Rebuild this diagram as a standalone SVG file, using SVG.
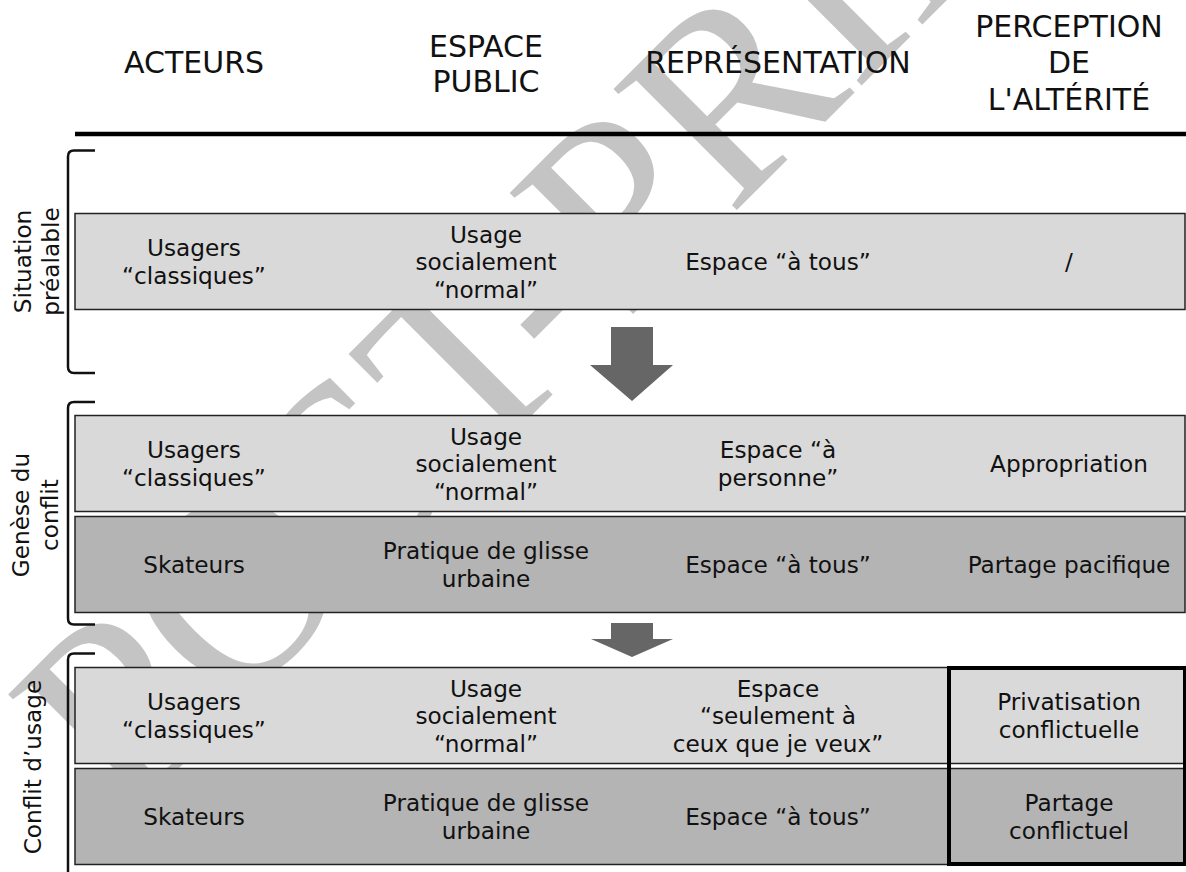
<svg xmlns="http://www.w3.org/2000/svg" width="1186" height="872" viewBox="0 0 1186 872">
<style>
.hd{font-family:"DejaVu Sans",Verdana,sans-serif;font-size:30px;fill:#111;text-anchor:middle}
.tx{font-family:"DejaVu Sans",Verdana,sans-serif;font-size:23.2px;fill:#111;text-anchor:middle}
.lt{fill:#d9d9d9;stroke:#222;stroke-width:1.5}
.dk{fill:#b4b4b4;stroke:#222;stroke-width:1.5}
.br{fill:none;stroke:#111;stroke-width:2.5}
.ar{fill:#666}
.wm{font-family:"Liberation Serif","Times New Roman",serif;font-size:264px;fill:#c4c4c4}
</style>
<rect width="1186" height="872" fill="#fff"/>
<text class="wm" transform="translate(125,822) rotate(-45)">POST-PRINT</text>

<g id="header">
<text class="hd" x="194" y="73">ACTEURS</text>
<text class="hd" x="486" y="56.5">ESPACE<tspan x="486" y="91.5">PUBLIC</tspan></text>
<text class="hd" x="778" y="73">REPRÉSENTATION</text>
<text class="hd" x="1069" y="37">PERCEPTION<tspan x="1069" y="73">DE</tspan><tspan x="1069" y="110">L'ALTÉRITÉ</tspan></text>
<line x1="75" y1="134" x2="1186" y2="134" stroke="#000" stroke-width="4.5"/>
</g>

<g id="phase-labels">
<g id="label-situation">
<path class="br" d="M95,150.5 H74 Q68,150.5 68,156.5 V367 Q68,373 74,373 H95"/>
<text class="tx" transform="translate(0,261.5) rotate(-90)"><tspan x="0" y="30.5">Situation</tspan><tspan x="0" y="58.5">préalable</tspan></text>
</g>
<g id="label-genese">
<path class="br" d="M95,402 H74 Q68,402 68,408 V618.5 Q68,624.5 74,624.5 H95"/>
<text class="tx" transform="translate(0,515) rotate(-90)"><tspan x="0" y="29">Genèse du</tspan><tspan x="0" y="57.5">conflit</tspan></text>
</g>
<g id="label-conflit">
<path class="br" d="M95,653.5 H74 Q68,653.5 68,659.5 V880"/>
<text class="tx" transform="translate(0,767) rotate(-90)"><tspan x="0" y="41">Conflit d’usage</tspan></text>
</g>
</g>

<g id="row1">
<rect class="lt" x="75" y="213.5" width="1110" height="96"/>
<text class="tx" x="194" y="256.25">Usagers<tspan x="194" y="283.75">“classiques”</tspan></text>
<text class="tx" x="486" y="242.5">Usage<tspan x="486" y="270">socialement</tspan><tspan x="486" y="297.5">“normal”</tspan></text>
<text class="tx" x="778" y="270">Espace “à tous”</text>
<text class="tx" x="1069" y="270">/</text>
</g>

<g id="row2a">
<rect class="lt" x="75" y="415.5" width="1110" height="96"/>
<text class="tx" x="194" y="458.25">Usagers<tspan x="194" y="485.75">“classiques”</tspan></text>
<text class="tx" x="486" y="444.5">Usage<tspan x="486" y="472">socialement</tspan><tspan x="486" y="499.5">“normal”</tspan></text>
<text class="tx" x="778" y="458.25">Espace “à<tspan x="778" y="485.75">personne”</tspan></text>
<text class="tx" x="1069" y="472">Appropriation</text>
</g>

<g id="row2b">
<rect class="dk" x="75" y="516.5" width="1110" height="96"/>
<text class="tx" x="194" y="573">Skateurs</text>
<text class="tx" x="486" y="559.25">Pratique de glisse<tspan x="486" y="586.75">urbaine</tspan></text>
<text class="tx" x="778" y="573">Espace “à tous”</text>
<text class="tx" x="1069" y="573">Partage pacifique</text>
</g>

<g id="row3a">
<rect class="lt" x="75" y="667.5" width="1110" height="96"/>
<text class="tx" x="194" y="710.25">Usagers<tspan x="194" y="737.75">“classiques”</tspan></text>
<text class="tx" x="486" y="696.5">Usage<tspan x="486" y="724">socialement</tspan><tspan x="486" y="751.5">“normal”</tspan></text>
<text class="tx" x="778" y="696.5">Espace<tspan x="778" y="724">“seulement à</tspan><tspan x="778" y="751.5">ceux que je veux”</tspan></text>
<text class="tx" x="1069" y="710.25">Privatisation<tspan x="1069" y="737.75">conflictuelle</tspan></text>
</g>

<g id="row3b">
<rect class="dk" x="75" y="768.5" width="1110" height="96"/>
<text class="tx" x="194" y="825">Skateurs</text>
<text class="tx" x="486" y="811.25">Pratique de glisse<tspan x="486" y="838.75">urbaine</tspan></text>
<text class="tx" x="778" y="825">Espace “à tous”</text>
<text class="tx" x="1069" y="811.25">Partage<tspan x="1069" y="838.75">conflictuel</tspan></text>
</g>

<g id="highlight">
<rect x="949" y="668" width="236" height="196" fill="none" stroke="#000" stroke-width="4"/>
</g>

<g id="connectors">
<polygon class="ar" points="611,327 653,327 653,365 673,365 632,401 590,365 611,365"/>
<polygon class="ar" points="611,623 653,623 653,639 673,639 632,657 591,639 611,639"/>
</g>
</svg>
